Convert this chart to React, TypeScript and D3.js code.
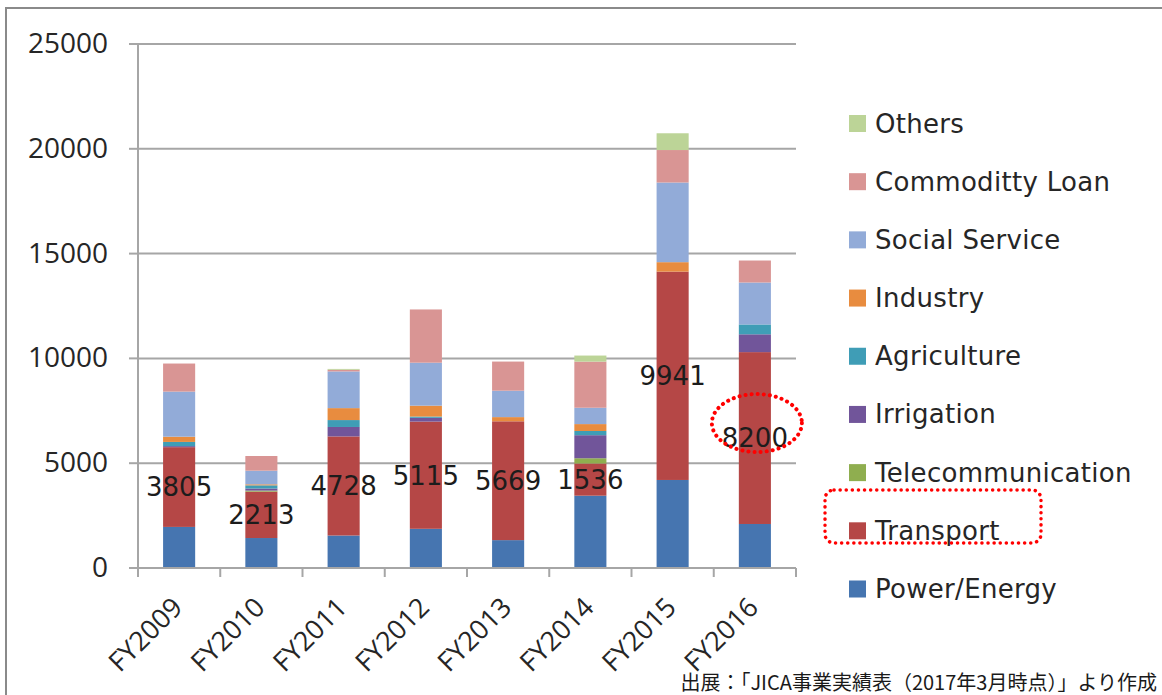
import React from "react";
import * as d3 from "d3";

// --- Data (JICA loan commitments by sector) ---
const years = ["FY2009", "FY2010", "FY2011", "FY2012", "FY2013", "FY2014", "FY2015", "FY2016"];

// stack order, bottom to top
const sectors = [
  "Power/Energy",
  "Transport",
  "Telecommunication",
  "Irrigation",
  "Agriculture",
  "Industry",
  "Social Service",
  "Commoditty Loan",
  "Others",
];

const powerEnergy = [1960, 1430, 1550, 1870, 1330, 3450, 4200, 2100];
const transport = [3805, 2213, 4728, 5115, 5669, 1536, 9941, 8200];
const telecom = [0, 50, 0, 0, 0, 250, 0, 0];
const irrigation = [50, 100, 450, 180, 0, 1100, 0, 850];
const agriculture = [200, 150, 330, 60, 0, 200, 0, 470];
const industry = [250, 50, 570, 520, 200, 330, 450, 0];
const socialService = [2150, 650, 1750, 2050, 1260, 780, 3800, 2000];
const commodityLoan = [1340, 700, 80, 2540, 1390, 2200, 1550, 1050];
const others = [0, 0, 40, 0, 0, 290, 800, 0];

const yTicks = [0, 5000, 10000, 15000, 20000, 25000];

const sectorColors = [
  "#4675b0",
  "#b54746",
  "#8fae4f",
  "#71559a",
  "#3f9db6",
  "#e88c3f",
  "#92abd8",
  "#d99594",
  "#bcd497",
];

const caption = "出展：「JICA事業実績表（2017年3月時点）」より作成";

const W = 1162;
const H = 695;

export default function App() {
  const series = [
    powerEnergy,
    transport,
    telecom,
    irrigation,
    agriculture,
    industry,
    socialService,
    commodityLoan,
    others,
  ];

  const rows = years.map((yr, i) => {
    const r: Record<string, any> = { year: yr };
    sectors.forEach((s, j) => (r[s] = series[j][i]));
    return r;
  });

  const stacked = d3.stack<any>().keys(sectors)(rows);

  const plot = { left: 138, right: 796, top: 44, bottom: 568 };

  const x = d3
    .scaleBand()
    .domain(years)
    .range([plot.left, plot.right])
    .paddingInner(0.61)
    .paddingOuter(0.305);

  const y = d3.scaleLinear().domain([0, 25000]).range([plot.bottom, plot.top]);

  const color = d3.scaleOrdinal<string, string>().domain(sectors).range(sectorColors);

  const step = x.step();
  const catEdges = d3.range(years.length + 1).map((i) => plot.left + i * step);

  const legendItems = [...sectors].reverse();
  const legendY = d3
    .scalePoint()
    .domain(legendItems)
    .range([123.5, 589]);

  const transportLayer = stacked[1];
  const last = years.length - 1;
  const lastLabelY = y((transportLayer[last][0] + transportLayer[last][1]) / 2);
  const lastCx = (x(years[last]) as number) + x.bandwidth() / 2;

  return (
    <svg
      width={W}
      height={H}
      style={{ position: "absolute", left: 0, top: 0, background: "#fff" }}
    >
      {/* frame */}
      <line x1={5} x2={W} y1={8} y2={8} stroke="#8a8a8a" strokeWidth={2} />
      <line x1={6} x2={6} y1={8} y2={H} stroke="#8a8a8a" strokeWidth={2} />

      {/* gridlines + y labels */}
      {yTicks.map((t) => (
        <g key={t}>
          {t > 0 && (
            <line
              x1={plot.left}
              x2={plot.right}
              y1={y(t)}
              y2={y(t)}
              stroke="#a6a6a6"
              strokeWidth={2}
            />
          )}
          <line x1={plot.left - 9} x2={plot.left} y1={y(t)} y2={y(t)} stroke="#a6a6a6" strokeWidth={2} />
          <text
            x={108}
            y={y(t) + 9}
            textAnchor="end"
            fontFamily="'Open Sans', sans-serif"
            fontSize={28}
            fill="#262626"
          >
            {t}
          </text>
        </g>
      ))}

      {/* bars */}
      {stacked.map((layer) => (
        <g key={layer.key} fill={color(layer.key)}>
          {layer.map((d, i) =>
            d[1] - d[0] > 0 ? (
              <rect
                key={i}
                x={x(years[i])}
                y={y(d[1])}
                width={x.bandwidth()}
                height={y(d[0]) - y(d[1])}
              />
            ) : null
          )}
        </g>
      ))}

      {/* axes */}
      <line x1={plot.left} x2={plot.left} y1={plot.top} y2={plot.bottom} stroke="#a6a6a6" strokeWidth={2} />
      <line x1={plot.left} x2={plot.right} y1={plot.bottom} y2={plot.bottom} stroke="#a6a6a6" strokeWidth={2} />
      {catEdges.map((ex, i) => (
        <line key={i} x1={ex} x2={ex} y1={plot.bottom} y2={plot.bottom + 9} stroke="#a6a6a6" strokeWidth={2} />
      ))}

      {/* x labels */}
      {years.map((yr) => {
        const cx = (x(yr) as number) + x.bandwidth() / 2 + 5;
        const cy = plot.bottom + 41;
        return (
          <text
            key={yr}
            transform={`translate(${cx},${cy}) rotate(-45)`}
            textAnchor="end"
            fontFamily="'Open Sans', sans-serif"
            fontSize={27}
            fill="#262626"
          >
            {yr}
          </text>
        );
      })}

      {/* transport data labels */}
      {transportLayer.map((d, i) => (
        <text
          key={i}
          x={(x(years[i]) as number) + x.bandwidth() / 2}
          y={y((d[0] + d[1]) / 2)}
          dy="0.36em"
          textAnchor="middle"
          fontFamily="'DejaVu Sans', sans-serif"
          fontSize={26}
          fill="#1c1c1c"
        >
          {transport[i]}
        </text>
      ))}

      {/* legend */}
      {legendItems.map((s) => {
        const cy = legendY(s) as number;
        return (
          <g key={s}>
            <rect x={849} y={cy - 8.5} width={17} height={17} fill={color(s)} />
            <text
              x={875}
              y={cy + 9}
              fontFamily="'DejaVu Sans', sans-serif"
              fontSize={26}
              letterSpacing={0.3}
              fill="#262626"
            >
              {s}
            </text>
          </g>
        );
      })}

      {/* red dotted highlights */}
      <rect
        x={825}
        y={490}
        width={216}
        height={53}
        rx={9}
        fill="none"
        stroke="#ff0000"
        strokeWidth={3.5}
        strokeDasharray="0.1 6"
        strokeLinecap="round"
      />
      <ellipse
        cx={lastCx + 2}
        cy={lastLabelY - 15}
        rx={45}
        ry={29}
        fill="none"
        stroke="#ff0000"
        strokeWidth={4}
        strokeDasharray="0.1 6"
        strokeLinecap="round"
      />

      {/* source note */}
      <text
        x={1157}
        y={690}
        textAnchor="end"
        fontFamily="'Noto Sans CJK JP', sans-serif"
        fontSize={20}
        fill="#1a1a1a"
      >
        {caption}
      </text>
    </svg>
  );
}
